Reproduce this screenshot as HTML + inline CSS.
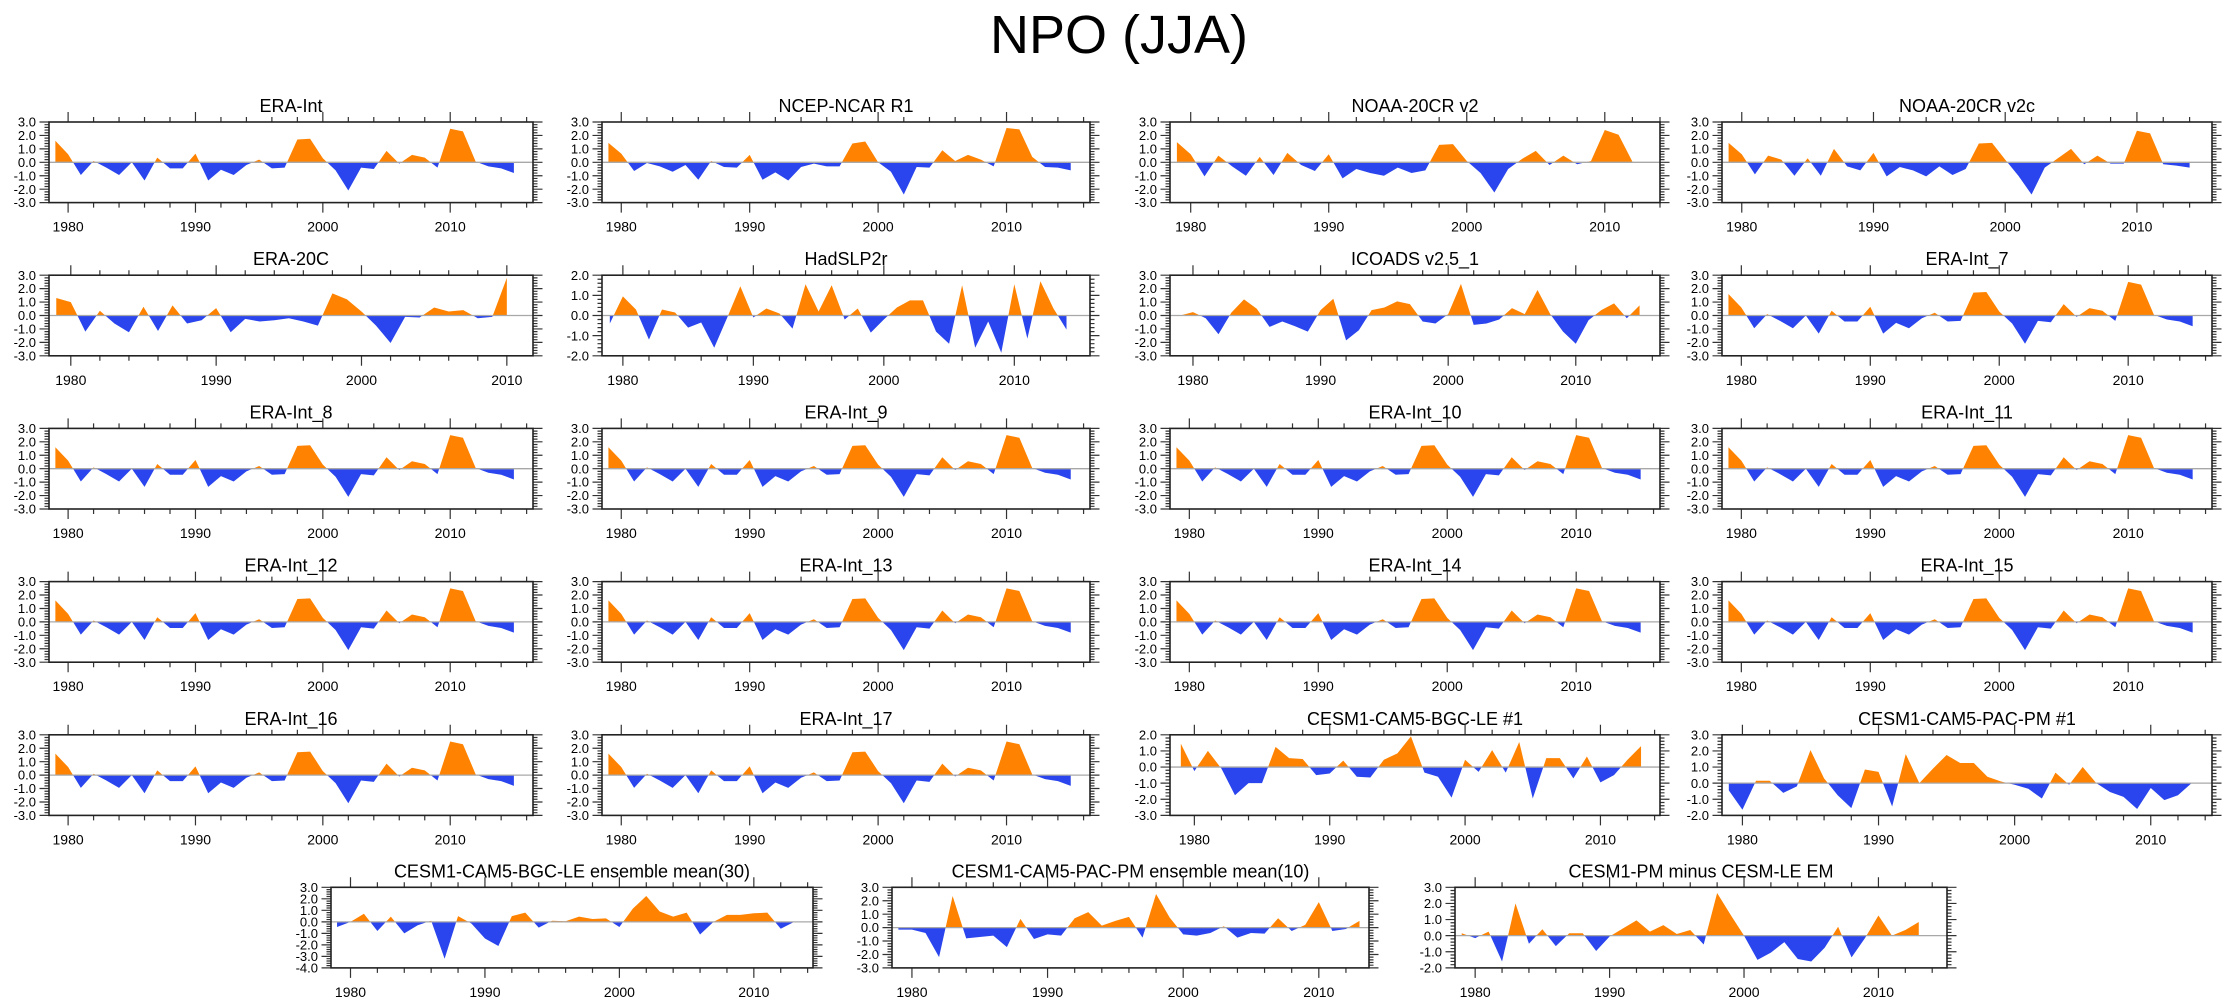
<!DOCTYPE html>
<html><head><meta charset="utf-8">
<style>
html,body{margin:0;padding:0;background:#fff;}
svg{display:block;font-family:"Liberation Sans",Arial,sans-serif;}
</style></head>
<body>
<svg id="fig" width="2238" height="1005" viewBox="0 0 2238 1005" xmlns="http://www.w3.org/2000/svg">
<rect width="2238" height="1005" fill="#fff"/>
<text x="1119" y="53" font-size="54" text-anchor="middle" fill="#000">NPO (JJA)</text>
</svg>
<script>
// ---- data ----
const startYear = 1979;
const eraInt = [1.6,0.6,-0.95,0.1,-0.4,-0.95,0.0,-1.35,0.35,-0.45,-0.45,0.65,-1.35,-0.55,-0.95,-0.2,0.2,-0.45,-0.4,1.7,1.75,0.3,-0.6,-2.1,-0.4,-0.5,0.85,-0.1,0.55,0.35,-0.4,2.5,2.3,0.05,-0.3,-0.45,-0.8];
const ncep = [1.45,0.65,-0.65,-0.05,-0.3,-0.7,-0.2,-1.3,0.1,-0.35,-0.4,0.55,-1.3,-0.75,-1.35,-0.35,-0.1,-0.3,-0.3,1.4,1.55,0.0,-0.7,-2.4,-0.35,-0.4,0.9,0.1,0.55,0.2,-0.3,2.55,2.45,0.4,-0.35,-0.4,-0.6];
const noaaV2 = [1.5,0.6,-1.05,0.5,-0.3,-1.0,0.4,-0.95,0.7,-0.2,-0.65,0.6,-1.2,-0.5,-0.8,-1.0,-0.4,-0.8,-0.6,1.3,1.35,0.1,-0.8,-2.25,-0.5,0.25,0.85,-0.2,0.5,-0.15,0.1,2.4,2.05,0.05];
const noaaV2c = [1.45,0.6,-0.9,0.5,0.2,-1.0,0.3,-1.0,1.0,-0.3,-0.6,0.7,-1.05,-0.35,-0.6,-1.05,-0.3,-0.95,-0.5,1.4,1.45,0.2,-1.0,-2.4,-0.4,0.3,1.0,-0.15,0.5,-0.1,-0.1,2.35,2.15,-0.15,-0.25,-0.4];
const era20c = [1.3,1.0,-1.2,0.35,-0.6,-1.25,0.65,-1.15,0.75,-0.6,-0.35,0.55,-1.25,-0.25,-0.45,-0.35,-0.2,-0.45,-0.75,1.65,1.2,0.3,-0.75,-2.05,-0.1,-0.15,0.6,0.3,0.4,-0.2,-0.1,2.8];
const hadslp2r = [-0.4,0.95,0.3,-1.2,0.3,0.15,-0.6,-0.35,-1.6,-0.1,1.45,-0.1,0.35,0.1,-0.65,1.55,0.2,1.5,-0.2,0.35,-0.85,-0.2,0.4,0.75,0.75,-0.8,-1.4,1.5,-1.6,-0.3,-1.85,1.55,-1.15,1.7,0.35,-0.7];
const icoads = [0.0,0.25,-0.2,-1.4,0.2,1.2,0.5,-0.85,-0.45,-0.8,-1.2,0.4,1.25,-1.85,-1.1,0.4,0.6,1.05,0.85,-0.45,-0.6,0.1,2.35,-0.7,-0.6,-0.3,0.55,0.1,1.9,0.1,-1.2,-2.1,-0.35,0.4,0.9,-0.2,0.75];
const bgcLe1 = [1.45,-0.25,1.0,-0.1,-1.75,-1.0,-1.0,1.25,0.55,0.5,-0.5,-0.4,0.4,-0.6,-0.65,0.45,0.85,1.9,-0.35,-0.6,-1.9,0.45,-0.3,1.05,-0.35,1.55,-1.95,0.55,0.55,-0.7,0.65,-0.95,-0.5,0.45,1.3];
const pacPm1 = [-0.45,-1.65,0.15,0.15,-0.6,-0.2,2.05,0.3,-0.75,-1.55,0.85,0.7,-1.45,1.8,0.0,0.9,1.75,1.25,1.25,0.4,0.1,-0.1,-0.35,-0.95,0.65,-0.1,1.0,0.0,-0.55,-0.85,-1.6,-0.3,-1.05,-0.75,0.0];
const bgcEm30 = [-0.45,0.0,0.7,-0.8,0.45,-1.0,-0.3,0.1,-3.2,0.5,-0.15,-1.45,-2.1,0.5,0.8,-0.5,0.1,0.05,0.45,0.25,0.3,-0.45,1.15,2.25,0.9,0.45,0.8,-1.1,0.0,0.6,0.6,0.75,0.8,-0.6,0.0];
const pacEm10 = [-0.15,-0.15,-0.4,-2.2,2.35,-0.8,-0.7,-0.6,-1.45,0.65,-0.85,-0.5,-0.6,0.7,1.15,0.15,0.5,0.8,-0.75,2.5,0.75,-0.5,-0.6,-0.4,0.1,-0.75,-0.4,-0.45,0.7,-0.25,0.2,1.9,-0.25,-0.1,0.5];
const pmMinusLe = [0.15,-0.15,0.25,-1.6,2.0,-0.5,0.4,-0.65,0.15,0.15,-0.95,-0.05,0.45,0.95,0.25,0.65,0.1,0.35,-0.55,2.65,1.3,0.0,-1.5,-1.05,-0.4,-1.45,-1.6,-0.75,0.55,-1.35,-0.15,1.25,0.0,0.35,0.85];
const majorYearLabels = ["1980","1990","2000","2010"];

// ---- layout (not data) ----
const rowTops = [122,275.2,428.4,581.6,734.8];
const colL = [49,602,1170,1722];
const colW = [484,488,490,490];
const PH = 80.6;
const panels = [
 {t:"ERA-Int",d:eraInt,r:0,c:0,xr:[1978.5,2016.5],yr:[-3,3]},
 {t:"NCEP-NCAR R1",d:ncep,r:0,c:1,xr:[1978.5,2016.5],yr:[-3,3]},
 {t:"NOAA-20CR v2",d:noaaV2,r:0,c:2,xr:[1978.5,2014],yr:[-3,3]},
 {t:"NOAA-20CR v2c",d:noaaV2c,r:0,c:3,xr:[1978.5,2015.7],yr:[-3,3]},
 {t:"ERA-20C",d:era20c,r:1,c:0,xr:[1978.5,2011.8],yr:[-3,3]},
 {t:"HadSLP2r",d:hadslp2r,r:1,c:1,xr:[1978.4,2015.8],yr:[-2,2]},
 {t:"ICOADS v2.5_1",d:icoads,r:1,c:2,xr:[1978.2,2016.6],yr:[-3,3]},
 {t:"ERA-Int_7",d:eraInt,r:1,c:3,xr:[1978.5,2016.5],yr:[-3,3]},
 {t:"ERA-Int_8",d:eraInt,r:2,c:0,xr:[1978.5,2016.5],yr:[-3,3]},
 {t:"ERA-Int_9",d:eraInt,r:2,c:1,xr:[1978.5,2016.5],yr:[-3,3]},
 {t:"ERA-Int_10",d:eraInt,r:2,c:2,xr:[1978.5,2016.5],yr:[-3,3]},
 {t:"ERA-Int_11",d:eraInt,r:2,c:3,xr:[1978.5,2016.5],yr:[-3,3]},
 {t:"ERA-Int_12",d:eraInt,r:3,c:0,xr:[1978.5,2016.5],yr:[-3,3]},
 {t:"ERA-Int_13",d:eraInt,r:3,c:1,xr:[1978.5,2016.5],yr:[-3,3]},
 {t:"ERA-Int_14",d:eraInt,r:3,c:2,xr:[1978.5,2016.5],yr:[-3,3]},
 {t:"ERA-Int_15",d:eraInt,r:3,c:3,xr:[1978.5,2016.5],yr:[-3,3]},
 {t:"ERA-Int_16",d:eraInt,r:4,c:0,xr:[1978.5,2016.5],yr:[-3,3]},
 {t:"ERA-Int_17",d:eraInt,r:4,c:1,xr:[1978.5,2016.5],yr:[-3,3]},
 {t:"CESM1-CAM5-BGC-LE #1",d:bgcLe1,r:4,c:2,xr:[1978.2,2014.4],yr:[-3,2]},
 {t:"CESM1-CAM5-PAC-PM #1",d:pacPm1,r:4,c:3,xr:[1978.5,2014.5],yr:[-2,3]},
 {t:"CESM1-CAM5-BGC-LE ensemble mean(30)",d:bgcEm30,L:331,W:482,T:887.3,xr:[1978.55,2014.4],yr:[-4,3]},
 {t:"CESM1-CAM5-PAC-PM ensemble mean(10)",d:pacEm10,L:892,W:477,T:887.3,xr:[1978.53,2013.7],yr:[-3,3]},
 {t:"CESM1-PM minus CESM-LE EM",d:pmMinusLe,L:1455,W:492,T:887.3,xr:[1978.5,2015.1],yr:[-2,3]}
];

const NS = "http://www.w3.org/2000/svg";
const svg = document.getElementById('fig');
function mk(tag, attrs, parent){
  const e = document.createElementNS(NS, tag);
  for (const k in attrs) e.setAttribute(k, attrs[k]);
  (parent||svg).appendChild(e);
  return e;
}
function slug(s){return s.toLowerCase().replace(/[^a-z0-9]+/g,'-').replace(/^-|-$/g,'');}

panels.forEach((p, idx) => {
  const L = p.L !== undefined ? p.L : colL[p.c];
  const W = p.W !== undefined ? p.W : colW[p.c];
  const T = p.T !== undefined ? p.T : rowTops[p.r];
  const B = T + PH, R = L + W;
  const xs = yr => L + (yr - p.xr[0]) / (p.xr[1] - p.xr[0]) * W;
  const ys = v => B - (v - p.yr[0]) / (p.yr[1] - p.yr[0]) * PH;
  const name = slug(p.t);
  const g = mk('g', {});
  
  

  const title = mk('text', {x: L + W/2, y: T - 10, 'font-size': 18, 'text-anchor': 'middle', fill: '#000'}, g);
  title.textContent = p.t;
  
  

  const y0 = ys(0);
  const cidA = 'ca' + idx, cidB = 'cb' + idx;
  const cpA = mk('clipPath', {id: cidA}, g);
  mk('rect', {x: L, y: T, width: W, height: y0 - T}, cpA);
  const cpB = mk('clipPath', {id: cidB}, g);
  mk('rect', {x: L, y: y0, width: W, height: B - y0}, cpB);

  let dStr = 'M' + xs(startYear).toFixed(2) + ',' + y0.toFixed(2);
  p.d.forEach((v, i) => { dStr += ' L' + xs(startYear + i).toFixed(2) + ',' + ys(v).toFixed(2); });
  dStr += ' L' + xs(startYear + p.d.length - 1).toFixed(2) + ',' + y0.toFixed(2) + ' Z';
  const pos = mk('path', {d: dStr, fill: '#ff8300', 'clip-path': 'url(#' + cidA + ')'}, g);
  
  
  const neg = mk('path', {d: dStr, fill: '#2a45ee', 'clip-path': 'url(#' + cidB + ')'}, g);
  
  

  const zl = mk('line', {x1: L, x2: R, y1: y0, y2: y0, stroke: '#a8a8a8', 'stroke-width': 1.3}, g);
  
  

  let tk = '';
  for (let yr = 1976; yr <= 2020; yr += 2) {
    if (yr < p.xr[0] - 0.01 || yr > p.xr[1] + 0.01) continue;
    const x = xs(yr).toFixed(2), len = (yr % 10 === 0) ? 10 : 5;
    tk += `M${x},${T}v${-len}M${x},${B}v${len}`;
  }
  for (let k = Math.round(p.yr[0]*5); k <= Math.round(p.yr[1]*5); k++) {
    const y = ys(k/5).toFixed(2), len = (k % 5 === 0) ? 9.5 : 4.5;
    tk += `M${L},${y}h${-len}M${R},${y}h${len}`;
  }
  const ticks = mk('path', {d: tk, stroke: '#333', 'stroke-width': 1.2, fill: 'none'}, g);
  
  

  const frame = mk('rect', {x: L, y: T, width: W, height: PH, fill: 'none', stroke: '#222', 'stroke-width': 1.6}, g);
  
  

  for (let v = p.yr[0]; v <= p.yr[1]; v++) {
    const t = mk('text', {x: L - 13, y: ys(v) + 4.6, 'font-size': 13, 'text-anchor': 'end', fill: '#000'}, g);
    t.textContent = v.toFixed(1);
    
    
  }
  majorYearLabels.forEach(lab => {
    const yr = +lab;
    if (yr < p.xr[0] || yr > p.xr[1]) return;
    const t = mk('text', {x: xs(yr), y: B + 29, 'font-size': 14, 'text-anchor': 'middle', fill: '#000'}, g);
    t.textContent = lab;
    
    
  });
});
</script>
</body></html>
